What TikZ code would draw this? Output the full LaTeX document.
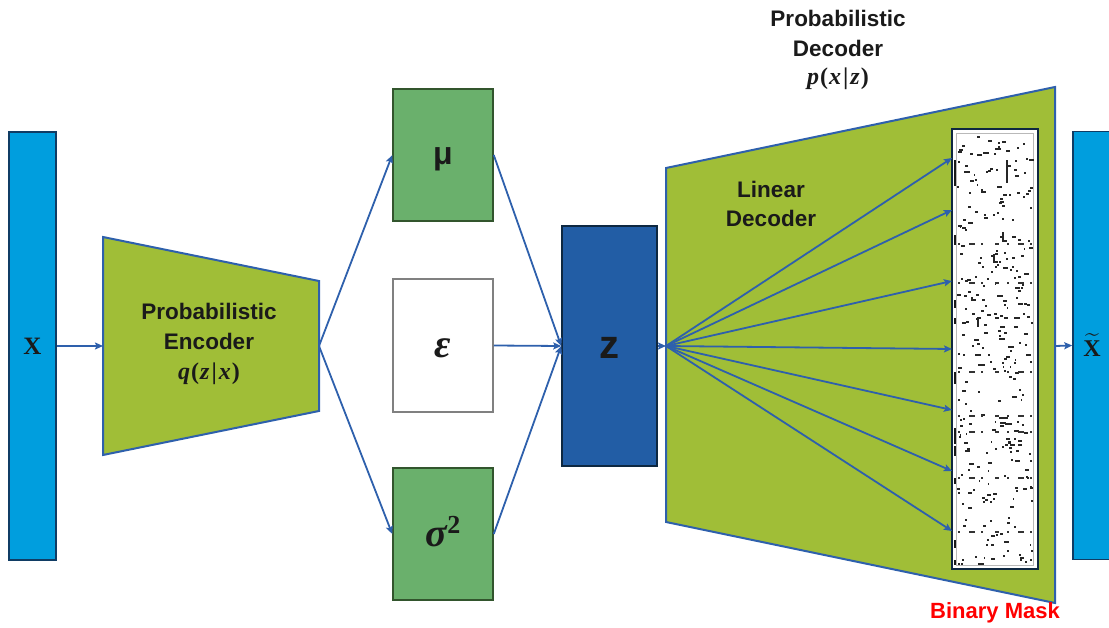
\documentclass[tikz,border=0pt]{standalone}
\usepackage{fix-cm}
\usepackage{amsmath}
\usepackage{fontspec}
\newfontfamily\sansb{Liberation Sans}
\newfontfamily\serifx{Liberation Serif}
\newcommand{\myBI}[1]{{\serifx\bfseries\itshape #1}}
\newcommand{\myUp}[1]{{\serifx #1}}
\newcommand{\condexpr}[3]{\myBI{#1}\kern1pt\myUp{(}\kern1pt\myBI{#2}\kern2pt\myUp{|}\kern2pt\myBI{#3}\kern1pt\myUp{)}}
\newcommand{\baseat}[2]{\raisebox{-#1pt}[0pt][0pt]{#2}}
\usetikzlibrary{arrows.meta}
\definecolor{barblue}{RGB}{0,158,222}
\definecolor{barline}{RGB}{16,60,100}
\definecolor{lime}{RGB}{160,190,55}
\definecolor{lineblue}{RGB}{46,96,172}
\definecolor{boxgreen}{RGB}{106,176,108}
\definecolor{darkgreen}{RGB}{50,85,45}
\definecolor{zblue}{RGB}{34,93,165}
\definecolor{navy}{RGB}{14,40,65}
\definecolor{txt}{RGB}{26,26,26}
\definecolor{maskred}{RGB}{255,0,0}
\begin{document}
\begin{tikzpicture}[x=1pt,y=-1pt,
  arr/.style={draw=lineblue, line width=1.8pt, -{Stealth[length=8pt,width=7pt,inset=1.5pt]}},
  trap/.style={fill=lime, draw=lineblue, line width=2pt, line join=miter},
  vbar/.style={draw=barline, line width=1.5pt, fill=barblue, minimum width=47pt, minimum height=428pt, inner sep=0pt, text=txt},
  gbox/.style={draw=darkgreen, line width=1.5pt, fill=boxgreen, minimum width=100pt, minimum height=132pt, inner sep=0pt, text=txt},
  ebox/.style={draw=gray, line width=1.5pt, fill=white, minimum width=100pt, minimum height=133pt, inner sep=0pt, text=txt},
  zbox/.style={draw=navy, line width=1.5pt, fill=zblue, minimum width=95pt, minimum height=240pt, inner sep=0pt, text=txt},
  label/.style={text=txt, align=center, inner sep=0pt, font=\sansb\bfseries\fontsize{22.5}{29.5}\selectfont}
]
\useasboundingbox (0,0) rectangle (1109,628);
\clip (0,0) rectangle (1109,628);

% input bar
\node[vbar, font=\serifx\bfseries\fontsize{25}{25}\selectfont] (X) at (32.5,346) {X};

% encoder
\path[trap] (103,237) -- (319,281) -- (319,411) -- (103,455) -- cycle;
\coordinate (encL) at (103,346);
\coordinate (encR) at (319,346);
\node[label] (enc) at (209,344) {Probabilistic\\Encoder\\[1pt]{\fontsize{24}{24}\selectfont\condexpr{q}{z}{x}}};

% latent boxes
\node[gbox, font=\sansb\bfseries\fontsize{32}{34}\selectfont] (mu) at (443,155) {\baseat{10}{μ}};
\node[ebox, font=\serifx\bfseries\itshape\fontsize{40}{40}\selectfont] (eps) at (443,345.5) {\baseat{12}{ε}};
\node[gbox, font=\serifx\fontsize{40}{40}\selectfont] (sig) at (443,534) {\baseat{12}{{\bfseries\itshape σ}\raisebox{13pt}{\fontsize{26}{26}\selectfont\bfseries 2}}};
\node[zbox, font=\sansb\bfseries\fontsize{40}{40}\selectfont] (z) at (609.5,346) {\baseat{13}{z}};

% decoder
\path[trap] (666,168) -- (1055,87) -- (1055,603) -- (666,522) -- cycle;
\coordinate (decL) at (666,346);
\coordinate (decR) at (1055,346);
\node[label] (dectitle) at (838,50) {Probabilistic\\Decoder\\[-1pt]{\fontsize{24}{24}\selectfont\condexpr{p}{x}{z}}};
\node[label] (lin) at (771,204) {Linear\\Decoder};

% binary mask
\node[draw=navy, line width=1.5pt, fill=white, minimum width=86pt, minimum height=440pt, inner sep=0pt] (M) at (995,349) {};
\draw[gray!55, line width=0.6pt] (956,133) rectangle (1033,565);
\begin{scope}
  \clip (954,131) rectangle (1036,567);
  \pgfmathsetseed{42}
  \foreach \k in {1,...,300}{
    \pgfmathsetmacro{\rx}{957+74*rnd}
    \pgfmathsetmacro{\ry}{134+430*rnd}
    \pgfmathsetmacro{\rw}{1.6+5*rnd*rnd}
    \fill[black!85] (\rx,\ry) rectangle ++(\rw,2);
  }
  \foreach \yy in {244,283,372,416,432,478,532}{
    \draw[black!80, line width=1.8pt, dash pattern=on 2pt off 9pt on 6pt off 6pt on 2pt off 12pt on 4pt off 8pt] (958,\yy) -- (1034,\yy);
  }
  \foreach \yy/\hh in {160/26,235/10,300/8,318/6,372/12,428/16,446/10,478/6,540/8,560/5}{
    \fill[black!90] (953,\yy) rectangle ++(3.2,\hh);
  }
  \fill[black!85] (1006,160) rectangle ++(2.2,23);
  \fill[black!85] (1002,232) rectangle ++(2.2,10);
  \fill[black!85] (993,254) rectangle ++(2.2,9);
  \fill[black!85] (977,317) rectangle ++(2.2,10);
\end{scope}
\node[text=maskred, inner sep=0pt, font=\sansb\bfseries\fontsize{22}{24}\selectfont] (bm) at (995,613) {Binary Mask};

% output bar
\node[vbar, font=\fontsize{24}{24}\selectfont] (Xt) at (1096.5,345.5) {\hspace*{-9pt}$\widetilde{\hbox{\serifx\bfseries X}}$};

% fan targets on the mask
\foreach \i/\yy in {1/158,2/210,3/281,4/349,5/410,6/471,7/531}{
  \coordinate (t\i) at (952,\yy);
}

% connectors
\draw[arr] (X.east) -- (encL);
\draw[arr] (encR) -- (mu.west);
\draw[arr] (encR) -- (sig.west);
\draw[arr] (mu.east) -- (z.west);
\draw[arr] (eps.east) -- (z.west);
\draw[arr] (sig.east) -- (z.west);
\draw[arr] (z.east) -- (decL);
\foreach \i in {1,...,7}{
  \draw[arr] (decL) -- (t\i);
}
\draw[arr] (decR) -- (Xt.west);
\end{tikzpicture}
\end{document}
